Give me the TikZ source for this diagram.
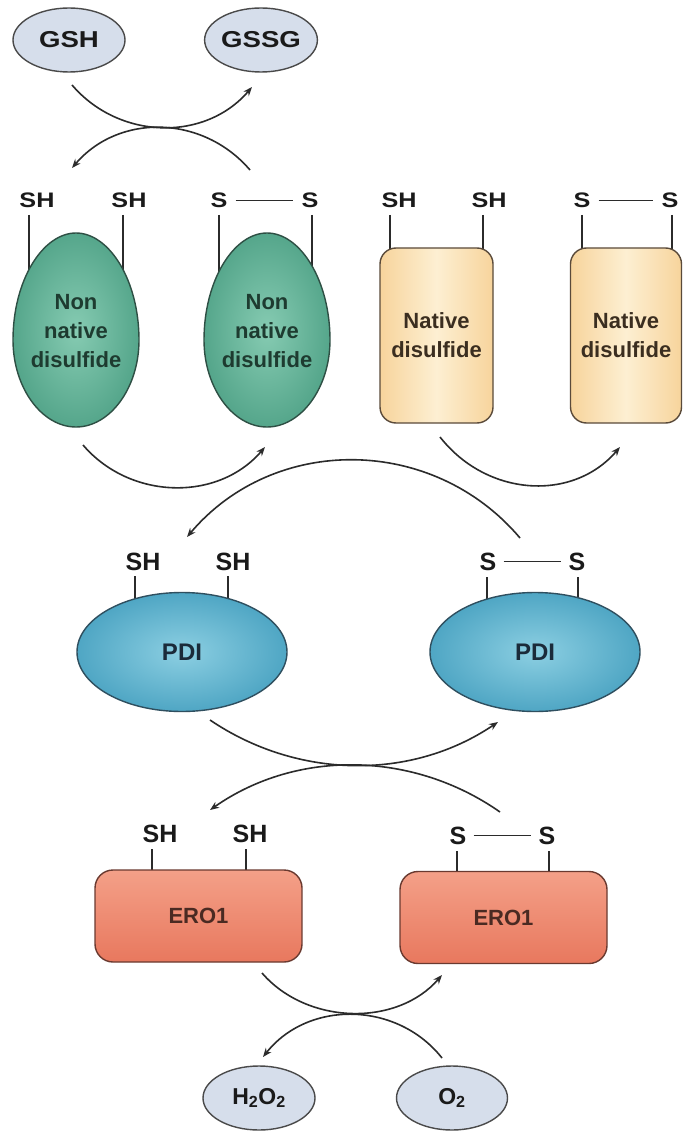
\documentclass[tikz,border=0pt]{standalone}
\usepackage{fontspec}
\setmainfont{Liberation Sans}
\newfontfamily\widesans{Liberation Sans}[FakeStretch=1.2]
\usetikzlibrary{arrows.meta,shapes.geometric}
\pgfdeclarelayer{bg}
\pgfsetlayers{bg,main}
\definecolor{linec}{HTML}{2B2B2B}
\definecolor{bordc}{HTML}{4A4A4A}
\definecolor{greyblue}{HTML}{D6DEEB}
\definecolor{eggIn}{HTML}{86CBB2}
\definecolor{eggOut}{HTML}{55A68B}
\definecolor{eggBd}{HTML}{2E4F44}
\definecolor{eggTx}{HTML}{1E3B30}
\definecolor{natE}{HTML}{F7D49C}
\definecolor{natC}{HTML}{FDEFD2}
\definecolor{natBd}{HTML}{5A4A3A}
\definecolor{natTx}{HTML}{3B2E20}
\definecolor{pdiIn}{HTML}{8CCFE2}
\definecolor{pdiOut}{HTML}{4FA6C4}
\definecolor{pdiBd}{HTML}{2F4F5F}
\definecolor{pdiTx}{HTML}{1B2B3A}
\definecolor{eroT}{HTML}{F4A088}
\definecolor{eroB}{HTML}{E8785E}
\definecolor{eroBd}{HTML}{6A3A30}
\definecolor{eroTx}{HTML}{4A2A22}
\definecolor{txt}{HTML}{1A1A1A}
\begin{document}
\begin{tikzpicture}[x=1pt,y=-1pt,
  lab/.style={font=\bfseries\fontsize{25}{30}\selectfont, text=txt, inner sep=0pt, anchor=base},
  toplab/.style={font=\widesans\bfseries\fontsize{21}{25}\selectfont, text=txt, inner sep=0pt, anchor=base},
  stick/.style={draw=linec, line width=1.4pt},
  bond/.style={draw=linec, line width=1.4pt, shorten <=8pt, shorten >=8pt},
  conn/.style={draw=linec, line width=1.6pt, -{Stealth[length=9pt,width=7pt]}},
  smallox/.style={ellipse, draw=bordc, line width=1.4pt, fill=greyblue, minimum width=112pt, minimum height=64pt, inner sep=0pt, text=txt},
  eggtxt/.style={align=center, inner sep=0pt, text=eggTx, font=\bfseries\fontsize{22}{29}\selectfont},
  natbox/.style={rectangle, rounded corners=16pt, draw=natBd, line width=1.4pt, minimum width=113pt, minimum height=175pt, left color=natE, right color=natE, middle color=natC, align=center, text=natTx, font=\bfseries\fontsize{22}{29}\selectfont},
  pdibox/.style={ellipse, draw=pdiBd, line width=1.4pt, minimum width=210pt, minimum height=119pt, inner color=pdiIn, outer color=pdiOut, text=pdiTx, font=\bfseries\fontsize{24}{28}\selectfont},
  erobox/.style={rectangle, rounded corners=18pt, draw=eroBd, line width=1.4pt, minimum width=207pt, minimum height=92pt, top color=eroT, bottom color=eroB, text=eroTx, font=\bfseries\fontsize{22}{26}\selectfont},
  egg/.pic={\shadedraw[draw=eggBd, line width=1.4pt, inner color=eggIn, outer color=eggOut]
     (0,-97) .. controls (33,-97) and (63,-50) .. (63,10)
     .. controls (63,58) and (34,97) .. (0,97)
     .. controls (-34,97) and (-63,58) .. (-63,10)
     .. controls (-63,-50) and (-33,-97) .. (0,-97) -- cycle;}
]
\begin{pgfonlayer}{bg}
\fill[white] (0,0) rectangle (683,1131);
\end{pgfonlayer}
\useasboundingbox (0,0) rectangle (683,1131);

% ---- top: GSH / GSSG
\node[smallox, font=\widesans\bfseries\fontsize{23}{27}\selectfont] (gsh) at (69,40) {GSH};
\node[smallox, font=\widesans\bfseries\fontsize{23}{27}\selectfont] (gssg) at (261,40) {GSSG};

% ---- sticks (behind the shapes)
\begin{pgfonlayer}{bg}
\draw[stick] (29,215) -- (29,280);
\draw[stick] (123,215) -- (123,280);
\draw[stick] (219,215) -- (219,280);
\draw[stick] (312,215) -- (312,280);
\draw[stick] (390,215) -- (390,260);
\draw[stick] (483,215) -- (483,260);
\draw[stick] (582,215) -- (582,260);
\draw[stick] (672,215) -- (672,260);
\draw[stick] (135,576) -- (135,610);
\draw[stick] (228,576) -- (228,610);
\draw[stick] (487,577) -- (487,610);
\draw[stick] (578,577) -- (578,610);
\draw[stick] (152,849) -- (152,885);
\draw[stick] (246,849) -- (246,885);
\draw[stick] (457,851) -- (457,885);
\draw[stick] (549,851) -- (549,885);
\end{pgfonlayer}

% ---- eggs (non native)
\pic at (76,330) {egg};
\pic at (267,330) {egg};
\node[eggtxt] (egg1) at (76,331) {Non\\native\\disulfide};
\node[eggtxt] (egg2) at (267,331) {Non\\native\\disulfide};

\node[toplab] (e1a) at (37,208) {SH};
\node[toplab] (e1b) at (129,208) {SH};
\node[toplab] (e2a) at (219,208) {S};
\node[toplab] (e2b) at (310,208) {S};
\draw[bond] (e2a.east) -- (e2b.west);

% ---- native boxes
\node[natbox] (nat1) at (436.5,335.5) {Native\\disulfide};
\node[natbox, minimum width=111pt] (nat2) at (626,335.5) {Native\\disulfide};
\node[toplab] (n1a) at (399,208) {SH};
\node[toplab] (n1b) at (489,208) {SH};
\node[toplab] (n2a) at (582,208) {S};
\node[toplab] (n2b) at (670,208) {S};
\draw[bond] (n2a.east) -- (n2b.west);

% ---- PDI
\node[pdibox] (pdi1) at (182,652) {PDI};
\node[pdibox] (pdi2) at (535,652) {PDI};
\node[lab] (p1a) at (143,570) {SH};
\node[lab] (p1b) at (233,570) {SH};
\node[lab] (p2a) at (488,570) {S};
\node[lab] (p2b) at (577,570) {S};
\draw[bond, shorten <=7pt, shorten >=7pt] (p2a.east) -- (p2b.west);

% ---- ERO1
\node[erobox] (ero1) at (198.5,916) {ERO1};
\node[erobox] (ero2) at (503.5,917.5) {ERO1};
\node[lab] (r1a) at (160,842) {SH};
\node[lab] (r1b) at (250,842) {SH};
\node[lab] (r2a) at (458,844) {S};
\node[lab] (r2b) at (547,844) {S};
\draw[bond, shorten <=7pt, shorten >=7pt] (r2a.east) -- (r2b.west);

% ---- H2O2 / O2
\node[smallox, font=\bfseries\fontsize{23}{27}\selectfont] (h2o2) at (259,1098) {H\textsubscript{2}O\textsubscript{2}};
\node[smallox, minimum width=111pt, font=\bfseries\fontsize{23}{27}\selectfont] (o2) at (452,1098) {O\textsubscript{2}};

% ---- connector end points
\coordinate (a1s) at (72,85);   \coordinate (a1e) at (252,87);
\coordinate (a2s) at (250,170); \coordinate (a2e) at (72,168);
\coordinate (a3s) at (83,445);  \coordinate (a3e) at (265,447);
\coordinate (a4s) at (440,437); \coordinate (a4e) at (620,447);
\coordinate (a5s) at (520,538); \coordinate (a5e) at (187,537);
\coordinate (a6s) at (210,720); \coordinate (a6e) at (498,722);
\coordinate (a7s) at (500,812); \coordinate (a7e) at (210,810);
\coordinate (a8s) at (262,973); \coordinate (a8e) at (442,975);
\coordinate (a9s) at (442,1058); \coordinate (a9e) at (263,1057);

\draw[conn] (a1s) .. controls (119,140) and (205,142) .. (a1e);
\draw[conn] (a2s) .. controls (203,115) and (119,113) .. (a2e);
\draw[conn] (a3s) .. controls (130,500) and (218,502) .. (a3e);
\draw[conn] (a4s) .. controls (487,497) and (573,502) .. (a4e);
\draw[conn] (a5s) .. controls (433,435) and (274,434) .. (a5e);
\draw[conn] (a6s) .. controls (297,779) and (411,781) .. (a6e);
\draw[conn] (a7s) .. controls (413,751) and (297,749) .. (a7e);
\draw[conn] (a8s) .. controls (307,1025) and (397,1027) .. (a8e);
\draw[conn] (a9s) .. controls (397,1001) and (308,1000) .. (a9e);
\end{tikzpicture}
\end{document}
